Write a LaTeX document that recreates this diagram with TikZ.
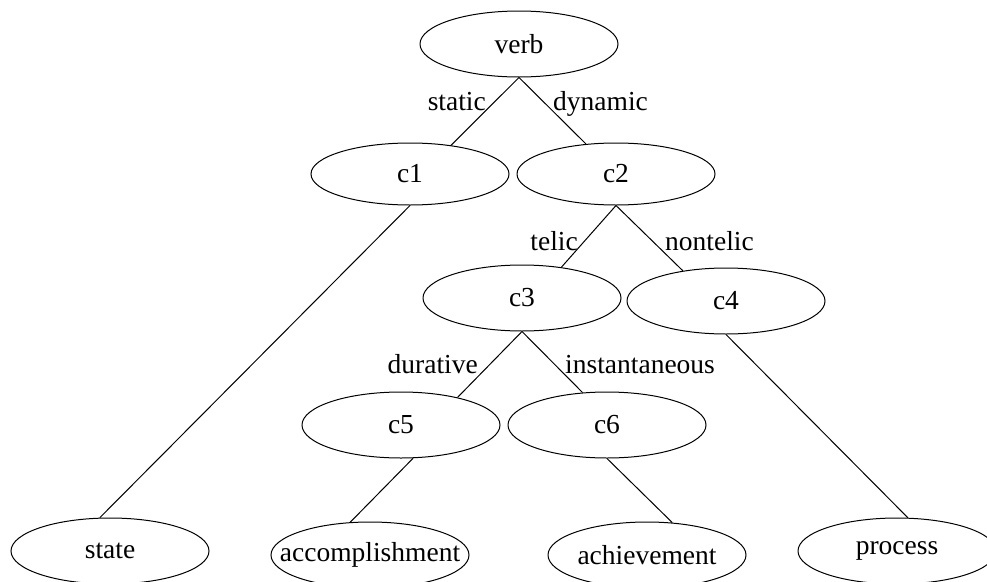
\documentclass[tikz,border=0pt]{standalone}
\usepackage{fontspec}
\setmainfont{Liberation Serif}
\usetikzlibrary{shapes.geometric}
\newcommand{\zw}[1]{\makebox[0pt]{#1}}
\tikzset{
  tnode/.style={ellipse, draw, line width=1pt, minimum width=198pt, minimum height=66pt, inner sep=0pt, font=\fontsize{27.5}{33}\selectfont},
  elabel/.style={inner sep=0pt, font=\fontsize{27.5}{33}\selectfont},
  edge/.style={line width=1pt}
}
\begin{document}
\begin{tikzpicture}[x=1pt,y=-1pt]
\fill[white] (0,0) rectangle (987,581);
\useasboundingbox (0,0) rectangle (987,581);
\node[tnode] (verb) at (519,44) {\zw{verb}};
\node[tnode, minimum height=62pt] (c1) at (410,174) {\zw{c1}};
\node[tnode, minimum height=62pt] (c2) at (616,174) {\zw{c2}};
\node[tnode] (c3) at (522,298) {\zw{c3}};
\node[tnode] (c4) at (726,301) {\zw{c4}};
\node[tnode] (c5) at (401,425) {\zw{c5}};
\node[tnode] (c6) at (607,425) {\zw{c6}};
\node[tnode] (state) at (110,551) {\zw{state}};
\node[tnode] (acc) at (370,555) {\zw{accomplishment}};
\node[tnode] (ach) at (647,555) {\zw{achievement}};
\node[tnode] (proc) at (897,551) {\zw{process}};

\draw[edge] (verb.south) -- (c1.35);
\draw[edge] (verb.south) -- (c2.135);
\draw[edge] (c1.south) -- (state.107);
\draw[edge] (c2.south) -- (c3.38);
\draw[edge] (c2.south) -- (c4.145);
\draw[edge] (c3.south) -- (c5.26);
\draw[edge] (c3.south) -- (c6.127);
\draw[edge] (c5.-70) -- (acc.121);
\draw[edge] (c6.south) -- (ach.52);
\draw[edge] (c4.south) -- (proc.72);

\node[elabel, anchor=base east] (lstatic) at (486,110) {static};
\node[elabel, anchor=base west] (ldynamic) at (553,110) {dynamic};
\node[elabel, anchor=base east] (ltelic) at (578,250) {telic};
\node[elabel, anchor=base west] (lnontelic) at (665,250) {nontelic};
\node[elabel, anchor=base east] (ldurative) at (478,373) {durative};
\node[elabel, anchor=base west] (linst) at (565,373) {instantaneous};
\end{tikzpicture}
\end{document}
